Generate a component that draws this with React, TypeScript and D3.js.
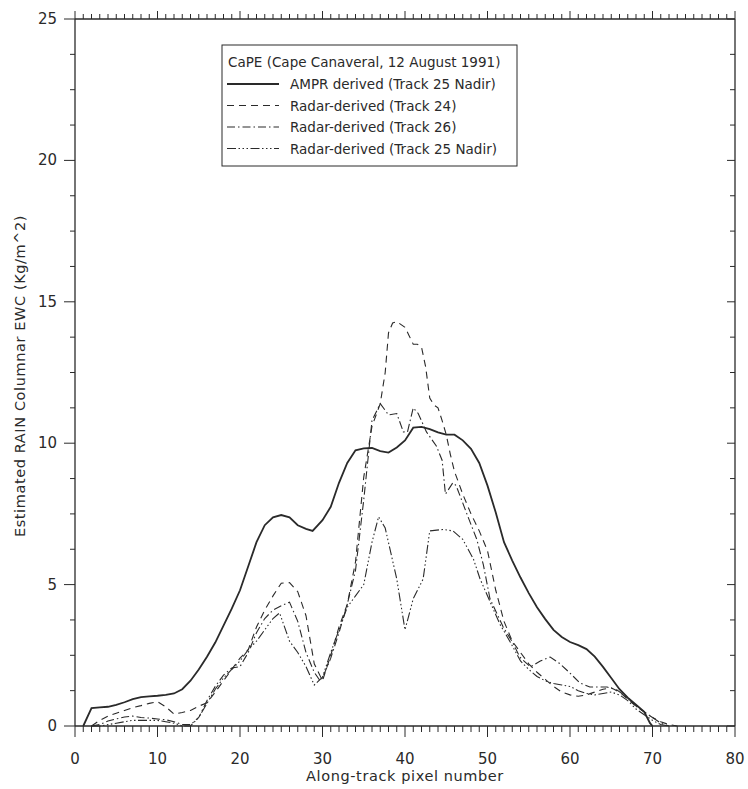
import React from "react";
import * as d3 from "d3";

const amprX = [1,2,3,4,5,6,7,8,9,10,11,12,13,14,15,16,17,18,19,20,21,22,23,24,25,26,27,28,28.8,30,31,32,33,34,35,36,37,38,39,40,41,42,43,44,45,46,47,48,49,50,51,52,53,54,55,56,57,58,59,60,61,62,63,64,65,66,67,68,69,69.7,70];
const amprY = [0,0.63,0.66,0.68,0.75,0.84,0.95,1.02,1.05,1.07,1.1,1.15,1.3,1.6,2.0,2.45,2.95,3.55,4.15,4.8,5.65,6.5,7.1,7.38,7.46,7.38,7.1,6.97,6.9,7.28,7.75,8.6,9.3,9.75,9.82,9.83,9.72,9.67,9.85,10.1,10.55,10.58,10.5,10.38,10.3,10.3,10.1,9.8,9.3,8.5,7.55,6.5,5.85,5.25,4.7,4.2,3.78,3.4,3.15,2.97,2.86,2.72,2.45,2.09,1.7,1.3,1.0,0.75,0.5,0.1,0];

const t24X = [2,3,4,5,6,7,8,9,10,11,12,13,14,15,16,17,18,19,20,21,22,23,24,25,26,27,28,29,30,31,32,33,34,35,36,37,37.6,38,38.5,39,40,40.5,41,41.5,42,42.5,43,43.5,44,44.5,45,45.5,46,47,48,49,50,51,52,53,54,55,56,57,58,59,60,61,62,63,64,65,66,67,68,69,70,71,72,73];
const t24Y = [0,0.2,0.35,0.45,0.55,0.65,0.72,0.8,0.86,0.68,0.42,0.48,0.55,0.7,0.82,1.2,1.6,2.0,2.4,2.7,3.5,4.1,4.6,5.05,5.07,4.75,3.9,2.2,1.6,2.5,3.5,4.3,5.8,8.8,10.6,11.4,12.5,13.9,14.25,14.3,14.1,13.8,13.5,13.5,13.4,12.7,11.6,11.35,11.25,10.8,10.3,9.6,9.0,8.2,7.5,6.9,6.2,4.8,3.7,3.0,2.6,2.2,1.9,1.65,1.4,1.2,1.1,1.05,1.1,1.2,1.3,1.35,1.2,0.95,0.7,0.5,0.3,0.15,0.05,0];

const t26X = [2,3,4,5,6,7,8,9,10,11,12,13,14,15,16,17,18,19,20,21,22,23,24,25,26,27,28,29,29.7,30,31,32,33,34,35,36,37,38,39,39.8,40.3,41,41.6,42.6,43.8,44.5,44.9,45.8,46.2,47.5,48.7,49.5,50.3,51.9,53.1,53.9,55.2,56.4,57.6,58.8,60,61.2,62.4,64.5,65.7,67,68,69,70,71,72];
const t26Y = [0,0.05,0.18,0.25,0.32,0.35,0.3,0.28,0.25,0.22,0.15,0.05,0.05,0.3,0.9,1.4,1.8,2.05,2.1,2.6,3.3,3.8,4.1,4.25,4.38,3.7,2.6,1.9,1.6,1.7,2.4,3.3,4.3,5.5,8.0,10.8,11.4,11.0,11.05,10.4,10.4,11.25,11.05,10.4,9.9,9.4,8.2,8.6,8.5,7.5,6.6,5.7,4.5,3.5,2.93,2.44,2.09,2.3,2.44,2.2,1.87,1.52,1.38,1.38,1.27,1.0,0.7,0.5,0.3,0.1,0];

const t25X = [2,3,4,5,6,7,8,9,10,11,12,13,14,15,16,17,18,19,20,21,22,23,24,24.8,26,27,28,29,30,31,32,33,34,35,36,36.8,37.6,39,40,41,42.2,43,44.6,45.8,47,48.3,49.1,50.3,51.5,52.7,54,55,56,57,58,59,60,61,62,63,64,65,66,67,68,69,70,71,72];
const t25Y = [0,0,0.05,0.1,0.15,0.2,0.2,0.2,0.2,0.15,0.1,0,0,0.3,0.8,1.3,1.7,2.0,2.3,2.7,3.0,3.4,3.8,4.0,3.0,2.6,2.1,1.45,1.73,2.6,3.4,4.2,4.6,5.0,6.5,7.4,7.0,5.2,3.4,4.5,5.2,6.9,6.95,6.9,6.6,5.9,5.2,4.4,3.6,3.0,2.3,2.0,1.75,1.6,1.5,1.45,1.4,1.25,1.15,1.1,1.15,1.2,1.1,0.9,0.6,0.4,0.2,0.05,0];

const xTickLabels = [0,10,20,30,40,50,60,70,80];
const yTickLabels = [0,5,10,15,20,25];
const legendTitle = "CaPE (Cape Canaveral, 12 August 1991)";
const seriesNames = ["AMPR derived (Track 25 Nadir)", "Radar-derived (Track 24)", "Radar-derived (Track 26)", "Radar-derived (Track 25 Nadir)"];
const dashes = ["none", "7 5", "8 3 1.5 3", "9 2.5 1.5 2.5 1.5 2.5 1.5 2.5"];

export default function App() {
  const x = d3.scaleLinear().domain([0, 80]).range([75, 735]);
  const y = d3.scaleLinear().domain([0, 25]).range([726, 19]);
  const ink = "#2a2a2a";
  const font = "'DejaVu Sans', 'Liberation Sans', sans-serif";
  const line = d3.line<[number, number]>().x(d => x(d[0])).y(d => y(d[1]));
  const series = [
    [amprX, amprY],
    [t24X, t24Y],
    [t26X, t26Y],
    [t25X, t25Y],
  ].map(([xs, ys]) => xs.map((v, i) => [v, ys[i]] as [number, number]));

  const xMinor = d3.range(0, 81, 1);
  const yMinor = d3.range(0, 25.01, 1.25);

  return (
    <svg width={748} height={789} style={{ position: "absolute", left: 0, top: 0, background: "#fff" }}>
      <rect x={0} y={0} width={748} height={789} fill="#fff" />
      <line x1={x(0)} x2={x(80)} y1={y(0)} y2={y(0)} stroke={ink} strokeWidth={1.3} />
      <line x1={x(0)} x2={x(80)} y1={y(25)} y2={y(25)} stroke={ink} strokeWidth={1.3} />
      <line x1={x(0)} x2={x(0)} y1={y(0)} y2={y(25)} stroke={ink} strokeWidth={1.3} />
      <line x1={x(80)} x2={x(80)} y1={y(0)} y2={y(25)} stroke={ink} strokeWidth={1.3} />
      {xMinor.map(v => {
        const major = v % 10 === 0;
        return (
          <g key={"xt" + v}>
            <line x1={x(v)} x2={x(v)} y1={y(0)} y2={y(0) + (major ? 11 : 6)} stroke={ink} strokeWidth={1} />
            <line x1={x(v)} x2={x(v)} y1={y(25)} y2={y(25) - (major ? 8 : 5)} stroke={ink} strokeWidth={1} />
          </g>
        );
      })}
      {yMinor.map(v => {
        const major = Math.abs(v % 5) < 1e-6;
        return (
          <g key={"yt" + v}>
            <line x1={x(0)} x2={x(0) - (major ? 11 : 5)} y1={y(v)} y2={y(v)} stroke={ink} strokeWidth={1} />
            <line x1={x(80)} x2={x(80) - (major ? 8 : 5)} y1={y(v)} y2={y(v)} stroke={ink} strokeWidth={1} />
          </g>
        );
      })}
      {xTickLabels.map(v => (
        <text key={"xl" + v} x={x(v)} y={764} textAnchor="middle" fontFamily={font} fontSize={15} fill={ink}>{v}</text>
      ))}
      {yTickLabels.map(v => (
        <text key={"yl" + v} x={57} y={y(v) + 5} textAnchor="end" fontFamily={font} fontSize={15} fill={ink}>{v}</text>
      ))}
      <text x={405} y={781} textAnchor="middle" fontFamily={font} fontSize={14.5} letterSpacing={0.6} fill={ink}>Along-track pixel number</text>
      <text transform={`translate(25, 376) rotate(-90)`} textAnchor="middle" fontFamily={font} fontSize={14.5} letterSpacing={0.6} fill={ink}>Estimated RAIN Columnar EWC (Kg/m^2)</text>
      {series.map((s, i) => (
        <path key={"s" + i} d={line(s) || ""} fill="none" stroke={ink} strokeWidth={i === 0 ? 1.8 : 1.1} strokeDasharray={dashes[i]} />
      ))}
      <rect x={222} y={45} width={295} height={121} fill="#fff" stroke={ink} strokeWidth={1} />
      <text x={228} y={67} fontFamily={font} fontSize={13.5} fill={ink}>{legendTitle}</text>
      {seriesNames.map((n, i) => (
        <g key={"lg" + i}>
          <line x1={227} x2={279} y1={84 + i * 21.5} y2={84 + i * 21.5} stroke={ink} strokeWidth={i === 0 ? 1.8 : 1.1} strokeDasharray={dashes[i]} />
          <text x={290} y={89 + i * 21.5} fontFamily={font} fontSize={13.5} fill={ink}>{n}</text>
        </g>
      ))}
    </svg>
  );
}
